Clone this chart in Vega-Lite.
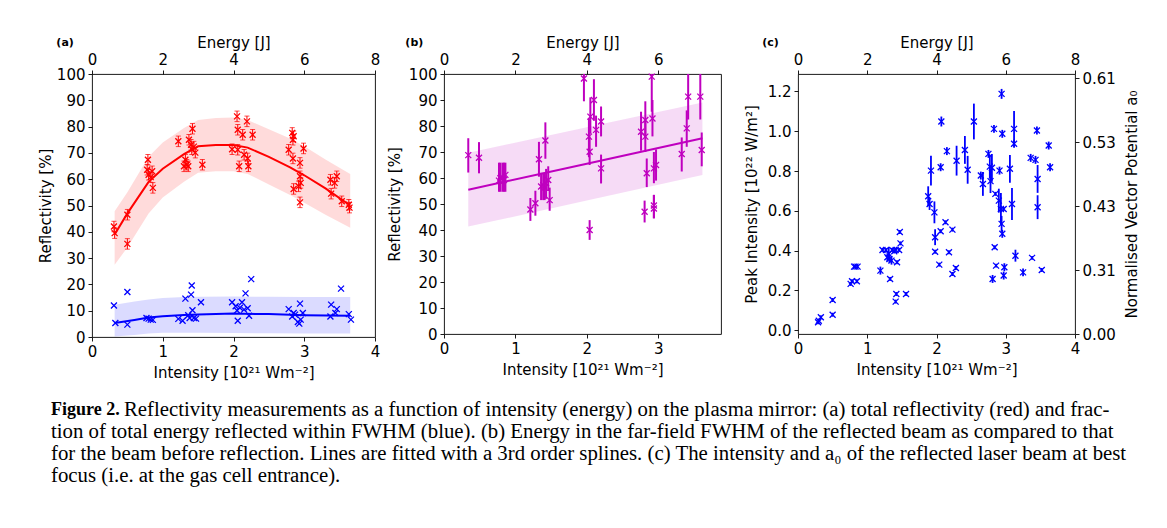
{
  "$schema": "https://vega.github.io/schema/vega-lite/v6.json",
  "background": "white",
  "padding": {"left": 37, "top": 34, "right": 5, "bottom": 5},
  "config": {
    "font": "DejaVu Sans",
    "view": {"stroke": "#000000", "strokeWidth": 0.9},
    "axis": {"grid": false, "domain": false, "tickColor": "#000000", "tickSize": 4, "tickWidth": 0.9, "labelFont": "DejaVu Sans", "labelFontSize": 15, "labelColor": "#000000", "titleFont": "DejaVu Sans", "titleFontSize": 15, "titleFontWeight": "normal", "titleColor": "#000000", "labelFlush": false, "labelOverlap": false, "labelPadding": 3, "titlePadding": 4},
    "axisTop": {"titlePadding": 2},
    "axisBottom": {"titlePadding": 6},
    "title": {"font": "DejaVu Sans", "fontSize": 11, "fontWeight": "bold", "color": "#000000", "anchor": "start", "frame": "bounds"}
  },
  "datasets": {
    "aFitR": [
      {"I": 0.32, "y": 39, "lo": 27.5, "hi": 47.8},
      {"I": 0.5, "y": 47, "lo": 34, "hi": 55},
      {"I": 0.8, "y": 59, "lo": 47, "hi": 68.5},
      {"I": 1.0, "y": 64, "lo": 53, "hi": 74},
      {"I": 1.3, "y": 69.5, "lo": 59, "hi": 79.5},
      {"I": 1.5, "y": 72.5, "lo": 62.5, "hi": 82.5},
      {"I": 1.75, "y": 73, "lo": 63, "hi": 83.3},
      {"I": 2.0, "y": 73, "lo": 63, "hi": 83.5},
      {"I": 2.2, "y": 72, "lo": 62, "hi": 82.5},
      {"I": 2.5, "y": 68.5, "lo": 58, "hi": 79},
      {"I": 2.8, "y": 64.5, "lo": 54, "hi": 75.5},
      {"I": 3.0, "y": 61.5, "lo": 51, "hi": 72.5},
      {"I": 3.3, "y": 56.5, "lo": 46.5, "hi": 67.5},
      {"I": 3.65, "y": 50, "lo": 41.5, "hi": 62}
    ],
    "aFitB": [
      {"I": 0.32, "y": 5.3, "lo": 0.2, "hi": 12.3},
      {"I": 0.6, "y": 6.5, "lo": 0.8, "hi": 13.5},
      {"I": 0.8, "y": 7.4, "lo": 1.3, "hi": 14.3},
      {"I": 1.0, "y": 7.9, "lo": 1.6, "hi": 14.8},
      {"I": 1.3, "y": 8.4, "lo": 1.6, "hi": 15.2},
      {"I": 1.5, "y": 8.6, "lo": 1.6, "hi": 15.3},
      {"I": 2.0, "y": 8.9, "lo": 1.5, "hi": 15.4},
      {"I": 2.5, "y": 8.7, "lo": 1.4, "hi": 15.3},
      {"I": 3.0, "y": 8.3, "lo": 1.3, "hi": 15.2},
      {"I": 3.65, "y": 8.1, "lo": 1.3, "hi": 15.2}
    ],
    "aRed": [
      {"I": 0.31, "R": 42, "lo": 40, "hi": 44},
      {"I": 0.32, "R": 39.5, "lo": 37.5, "hi": 41.5},
      {"I": 0.5, "R": 46.5, "lo": 44.5, "hi": 48.5},
      {"I": 0.5, "R": 35.4, "lo": 33.4, "hi": 37.4},
      {"I": 0.78, "R": 63.6, "lo": 61.6, "hi": 65.6},
      {"I": 0.79, "R": 67.4, "lo": 65.4, "hi": 69.4},
      {"I": 0.8, "R": 61.7, "lo": 59.7, "hi": 63.7},
      {"I": 0.83, "R": 60.8, "lo": 58.8, "hi": 62.8},
      {"I": 0.85, "R": 63, "lo": 61, "hi": 65},
      {"I": 0.86, "R": 56.7, "lo": 54.7, "hi": 58.7},
      {"I": 1.22, "R": 74.4, "lo": 72.4, "hi": 76.4},
      {"I": 1.3, "R": 64.9, "lo": 62.9, "hi": 66.9},
      {"I": 1.32, "R": 67.4, "lo": 65.4, "hi": 69.4},
      {"I": 1.34, "R": 65.5, "lo": 63.5, "hi": 67.5},
      {"I": 1.36, "R": 64.9, "lo": 62.9, "hi": 66.9},
      {"I": 1.37, "R": 75, "lo": 73, "hi": 77},
      {"I": 1.4, "R": 73.1, "lo": 71.1, "hi": 75.1},
      {"I": 1.42, "R": 79.2, "lo": 77.2, "hi": 81.2},
      {"I": 1.41, "R": 71.4, "lo": 69.4, "hi": 73.4},
      {"I": 1.44, "R": 72.4, "lo": 70.4, "hi": 74.4},
      {"I": 1.46, "R": 70.1, "lo": 68.1, "hi": 72.1},
      {"I": 1.56, "R": 65.5, "lo": 63.5, "hi": 67.5},
      {"I": 1.98, "R": 71.4, "lo": 69.4, "hi": 73.4},
      {"I": 2.05, "R": 83.9, "lo": 81.9, "hi": 85.9},
      {"I": 2.06, "R": 78.8, "lo": 76.8, "hi": 80.8},
      {"I": 2.13, "R": 76.9, "lo": 74.9, "hi": 78.9},
      {"I": 2.19, "R": 82, "lo": 80, "hi": 84},
      {"I": 2.27, "R": 76.9, "lo": 74.9, "hi": 78.9},
      {"I": 2.06, "R": 71.2, "lo": 69.2, "hi": 73.2},
      {"I": 2.08, "R": 64.9, "lo": 62.9, "hi": 66.9},
      {"I": 2.15, "R": 69.3, "lo": 67.3, "hi": 71.3},
      {"I": 2.2, "R": 67.9, "lo": 65.9, "hi": 69.9},
      {"I": 2.21, "R": 64.9, "lo": 62.9, "hi": 66.9},
      {"I": 2.83, "R": 77.6, "lo": 75.6, "hi": 79.6},
      {"I": 2.85, "R": 76.3, "lo": 74.3, "hi": 78.3},
      {"I": 2.84, "R": 75, "lo": 73, "hi": 77},
      {"I": 2.78, "R": 71.2, "lo": 69.2, "hi": 73.2},
      {"I": 2.84, "R": 67.9, "lo": 65.9, "hi": 69.9},
      {"I": 2.99, "R": 71.7, "lo": 69.7, "hi": 73.7},
      {"I": 2.94, "R": 66.2, "lo": 64.2, "hi": 68.2},
      {"I": 2.94, "R": 61.1, "lo": 59.1, "hi": 63.1},
      {"I": 2.85, "R": 56.3, "lo": 54.3, "hi": 58.3},
      {"I": 2.92, "R": 57.3, "lo": 55.3, "hi": 59.3},
      {"I": 2.95, "R": 58.6, "lo": 56.6, "hi": 60.6},
      {"I": 2.94, "R": 51.2, "lo": 49.2, "hi": 53.2},
      {"I": 3.37, "R": 59.8, "lo": 57.8, "hi": 61.8},
      {"I": 3.46, "R": 61.1, "lo": 59.1, "hi": 63.1},
      {"I": 3.43, "R": 58.6, "lo": 56.6, "hi": 60.6},
      {"I": 3.38, "R": 54.5, "lo": 52.5, "hi": 56.5},
      {"I": 3.53, "R": 51.6, "lo": 49.6, "hi": 53.6},
      {"I": 3.63, "R": 50.3, "lo": 48.3, "hi": 52.3},
      {"I": 3.64, "R": 49.2, "lo": 47.2, "hi": 51.2}
    ],
    "aBlue": [
      {"I": 0.31, "R": 12}, {"I": 0.33, "R": 5.3}, {"I": 0.5, "R": 17.1}, {"I": 0.5, "R": 4.7},
      {"I": 0.77, "R": 7.2}, {"I": 0.8, "R": 7}, {"I": 0.83, "R": 6.6}, {"I": 0.86, "R": 6.5},
      {"I": 1.22, "R": 6.9}, {"I": 1.28, "R": 6.2}, {"I": 1.32, "R": 14.6}, {"I": 1.36, "R": 8.3},
      {"I": 1.4, "R": 16.1}, {"I": 1.41, "R": 19.6}, {"I": 1.42, "R": 10.2}, {"I": 1.38, "R": 7.2},
      {"I": 1.44, "R": 7.2}, {"I": 1.47, "R": 7}, {"I": 1.54, "R": 13.2}, {"I": 1.98, "R": 13.2},
      {"I": 2.03, "R": 11.7}, {"I": 2.05, "R": 10.1}, {"I": 2.06, "R": 6.2}, {"I": 2.09, "R": 11.1},
      {"I": 2.12, "R": 13.2}, {"I": 2.15, "R": 10.4}, {"I": 2.17, "R": 16.6}, {"I": 2.2, "R": 10.9},
      {"I": 2.22, "R": 8.1}, {"I": 2.25, "R": 22}, {"I": 2.78, "R": 10.6}, {"I": 2.83, "R": 7.8},
      {"I": 2.85, "R": 9.1}, {"I": 2.87, "R": 8.5}, {"I": 2.94, "R": 12.7}, {"I": 2.91, "R": 5.7},
      {"I": 2.93, "R": 5.1}, {"I": 2.95, "R": 6.6}, {"I": 2.98, "R": 9.1}, {"I": 3.38, "R": 12.3},
      {"I": 3.37, "R": 7.8}, {"I": 3.44, "R": 9.1}, {"I": 3.46, "R": 10.6}, {"I": 3.52, "R": 18.4},
      {"I": 3.63, "R": 8.7}, {"I": 3.66, "R": 6.6}
    ],
    "bFit": [
      {"I": 0.34, "y": 55.5, "lo": 41.3, "hi": 69.7},
      {"I": 2.0, "y": 65.5, "lo": 51.3, "hi": 79.5},
      {"I": 3.62, "y": 75.3, "lo": 61.2, "hi": 89}
    ],
    "bPts": [
      {"I": 0.34, "R": 68.8, "lo": 62.1, "hi": 75.3},
      {"I": 0.49, "R": 67.8, "lo": 61.8, "hi": 73.8},
      {"I": 0.77, "R": 59.0, "lo": 54.7, "hi": 65.9},
      {"I": 0.79, "R": 59.9, "lo": 54.7, "hi": 65.9},
      {"I": 0.82, "R": 60.3, "lo": 54.7, "hi": 65.9},
      {"I": 0.84, "R": 59.2, "lo": 54.7, "hi": 65.9},
      {"I": 0.86, "R": 61.2, "lo": 54.7, "hi": 65.9},
      {"I": 1.21, "R": 47.9, "lo": 43.5, "hi": 52.3},
      {"I": 1.28, "R": 50.3, "lo": 45.5, "hi": 55.1},
      {"I": 1.33, "R": 67.2, "lo": 60.5, "hi": 73.9},
      {"I": 1.36, "R": 56.7, "lo": 51.5, "hi": 62},
      {"I": 1.39, "R": 57.3, "lo": 51.5, "hi": 62},
      {"I": 1.41, "R": 56.3, "lo": 51.5, "hi": 62},
      {"I": 1.43, "R": 58.0, "lo": 52, "hi": 63.5},
      {"I": 1.42, "R": 74.4, "lo": 67.4, "hi": 81.4},
      {"I": 1.46, "R": 59.2, "lo": 55, "hi": 64.5},
      {"I": 1.48, "R": 51.5, "lo": 47.4, "hi": 56.3},
      {"I": 1.96, "R": 98.3, "lo": 89.5, "hi": 100},
      {"I": 2.04, "R": 40.0, "lo": 36.2, "hi": 43.8},
      {"I": 2.03, "R": 75.9, "lo": 68, "hi": 83},
      {"I": 2.04, "R": 70.1, "lo": 65, "hi": 76},
      {"I": 2.05, "R": 83.6, "lo": 77, "hi": 91},
      {"I": 2.1, "R": 90.0, "lo": 82, "hi": 98},
      {"I": 2.13, "R": 78.5, "lo": 72, "hi": 84},
      {"I": 2.2, "R": 81.7, "lo": 76, "hi": 87.5},
      {"I": 2.2, "R": 63.7, "lo": 57.9, "hi": 69},
      {"I": 2.76, "R": 77.8, "lo": 70.5, "hi": 85.5},
      {"I": 2.82, "R": 82.3, "lo": 75.5, "hi": 89.5},
      {"I": 2.82, "R": 75.9, "lo": 70, "hi": 82},
      {"I": 2.84, "R": 61.8, "lo": 56.5, "hi": 67.5},
      {"I": 2.81, "R": 47.0, "lo": 42.9, "hi": 51.3},
      {"I": 2.91, "R": 99.0, "lo": 85.5, "hi": 100},
      {"I": 2.92, "R": 82.9, "lo": 76, "hi": 90},
      {"I": 2.94, "R": 49.4, "lo": 44.5, "hi": 53.5},
      {"I": 2.94, "R": 48.3, "lo": 44.5, "hi": 53.5},
      {"I": 2.94, "R": 63.7, "lo": 58, "hi": 70},
      {"I": 2.97, "R": 65.0, "lo": 59, "hi": 71},
      {"I": 3.33, "R": 69.2, "lo": 62.5, "hi": 75.6},
      {"I": 3.4, "R": 79.1, "lo": 72, "hi": 86},
      {"I": 3.42, "R": 91.3, "lo": 82.5, "hi": 100},
      {"I": 3.59, "R": 91.3, "lo": 82.5, "hi": 100},
      {"I": 3.61, "R": 70.8, "lo": 64.5, "hi": 77.5}
    ],
    "cPts": [
      {"I": 0.29, "P": 0.039, "lo": 0.029, "hi": 0.049},
      {"I": 0.30, "P": 0.047, "lo": 0.037, "hi": 0.057},
      {"I": 0.33, "P": 0.064, "lo": 0.054, "hi": 0.074},
      {"I": 0.50, "P": 0.077, "lo": 0.067, "hi": 0.087},
      {"I": 0.50, "P": 0.151, "lo": 0.141, "hi": 0.161},
      {"I": 0.76, "P": 0.232, "lo": 0.222, "hi": 0.242},
      {"I": 0.78, "P": 0.245, "lo": 0.235, "hi": 0.255},
      {"I": 0.81, "P": 0.319, "lo": 0.309, "hi": 0.329},
      {"I": 0.83, "P": 0.319, "lo": 0.309, "hi": 0.329},
      {"I": 0.86, "P": 0.319, "lo": 0.309, "hi": 0.329},
      {"I": 0.85, "P": 0.245, "lo": 0.235, "hi": 0.255},
      {"I": 1.19, "P": 0.299, "lo": 0.279, "hi": 0.319},
      {"I": 1.22, "P": 0.403, "lo": 0.393, "hi": 0.413},
      {"I": 1.27, "P": 0.403, "lo": 0.393, "hi": 0.413},
      {"I": 1.29, "P": 0.366, "lo": 0.346, "hi": 0.386},
      {"I": 1.31, "P": 0.383, "lo": 0.353, "hi": 0.413},
      {"I": 1.32, "P": 0.357, "lo": 0.337, "hi": 0.377},
      {"I": 1.33, "P": 0.257, "lo": 0.247, "hi": 0.267},
      {"I": 1.35, "P": 0.349, "lo": 0.329, "hi": 0.369},
      {"I": 1.36, "P": 0.403, "lo": 0.393, "hi": 0.413},
      {"I": 1.39, "P": 0.396, "lo": 0.386, "hi": 0.406},
      {"I": 1.41, "P": 0.403, "lo": 0.393, "hi": 0.413},
      {"I": 1.43, "P": 0.341, "lo": 0.331, "hi": 0.351},
      {"I": 1.46, "P": 0.403, "lo": 0.393, "hi": 0.413},
      {"I": 1.47, "P": 0.493, "lo": 0.483, "hi": 0.503},
      {"I": 1.48, "P": 0.436, "lo": 0.426, "hi": 0.446},
      {"I": 1.42, "P": 0.181, "lo": 0.171, "hi": 0.191},
      {"I": 1.41, "P": 0.143, "lo": 0.133, "hi": 0.153},
      {"I": 1.56, "P": 0.181, "lo": 0.171, "hi": 0.191},
      {"I": 1.88, "P": 0.673, "lo": 0.623, "hi": 0.723},
      {"I": 1.90, "P": 0.634, "lo": 0.604, "hi": 0.664},
      {"I": 1.92, "P": 0.802, "lo": 0.727, "hi": 0.877},
      {"I": 1.97, "P": 0.592, "lo": 0.537, "hi": 0.647},
      {"I": 1.98, "P": 0.467, "lo": 0.427, "hi": 0.507},
      {"I": 1.98, "P": 0.394, "lo": 0.384, "hi": 0.404},
      {"I": 2.04, "P": 0.329, "lo": 0.319, "hi": 0.339},
      {"I": 2.06, "P": 0.497, "lo": 0.487, "hi": 0.507},
      {"I": 2.06, "P": 0.819, "lo": 0.799, "hi": 0.839},
      {"I": 2.07, "P": 1.049, "lo": 1.024, "hi": 1.074},
      {"I": 2.13, "P": 0.542, "lo": 0.532, "hi": 0.552},
      {"I": 2.15, "P": 0.900, "lo": 0.880, "hi": 0.920},
      {"I": 2.18, "P": 0.391, "lo": 0.381, "hi": 0.401},
      {"I": 2.23, "P": 0.505, "lo": 0.495, "hi": 0.515},
      {"I": 2.23, "P": 0.282, "lo": 0.272, "hi": 0.292},
      {"I": 2.28, "P": 0.312, "lo": 0.302, "hi": 0.322},
      {"I": 2.29, "P": 0.852, "lo": 0.777, "hi": 0.927},
      {"I": 2.41, "P": 0.906, "lo": 0.836, "hi": 0.976},
      {"I": 2.45, "P": 0.806, "lo": 0.736, "hi": 0.876},
      {"I": 2.54, "P": 1.049, "lo": 0.959, "hi": 1.139},
      {"I": 2.64, "P": 0.777, "lo": 0.757, "hi": 0.797},
      {"I": 2.67, "P": 0.735, "lo": 0.675, "hi": 0.795},
      {"I": 2.75, "P": 0.886, "lo": 0.866, "hi": 0.906},
      {"I": 2.77, "P": 0.822, "lo": 0.762, "hi": 0.882},
      {"I": 2.78, "P": 0.749, "lo": 0.689, "hi": 0.809},
      {"I": 2.80, "P": 0.816, "lo": 0.746, "hi": 0.886},
      {"I": 2.81, "P": 0.257, "lo": 0.237, "hi": 0.277},
      {"I": 2.83, "P": 1.012, "lo": 0.992, "hi": 1.032},
      {"I": 2.84, "P": 0.416, "lo": 0.406, "hi": 0.426},
      {"I": 2.85, "P": 0.685, "lo": 0.675, "hi": 0.695},
      {"I": 2.86, "P": 0.324, "lo": 0.314, "hi": 0.334},
      {"I": 2.90, "P": 0.651, "lo": 0.591, "hi": 0.711},
      {"I": 2.91, "P": 0.802, "lo": 0.782, "hi": 0.822},
      {"I": 2.93, "P": 0.609, "lo": 0.529, "hi": 0.689},
      {"I": 2.94, "P": 0.534, "lo": 0.494, "hi": 0.574},
      {"I": 2.94, "P": 1.188, "lo": 1.163, "hi": 1.213},
      {"I": 2.95, "P": 0.484, "lo": 0.464, "hi": 0.504},
      {"I": 2.95, "P": 0.987, "lo": 0.967, "hi": 1.007},
      {"I": 2.97, "P": 0.609, "lo": 0.599, "hi": 0.619},
      {"I": 2.97, "P": 0.274, "lo": 0.254, "hi": 0.294},
      {"I": 2.98, "P": 0.316, "lo": 0.296, "hi": 0.336},
      {"I": 3.06, "P": 0.811, "lo": 0.741, "hi": 0.881},
      {"I": 3.09, "P": 0.634, "lo": 0.554, "hi": 0.714},
      {"I": 3.12, "P": 1.012, "lo": 0.922, "hi": 1.102},
      {"I": 3.12, "P": 0.937, "lo": 0.917, "hi": 0.957},
      {"I": 3.14, "P": 0.374, "lo": 0.344, "hi": 0.404},
      {"I": 3.25, "P": 0.290, "lo": 0.270, "hi": 0.310},
      {"I": 3.36, "P": 0.866, "lo": 0.846, "hi": 0.886},
      {"I": 3.38, "P": 0.363, "lo": 0.353, "hi": 0.373},
      {"I": 3.43, "P": 0.856, "lo": 0.836, "hi": 0.876},
      {"I": 3.45, "P": 1.004, "lo": 0.984, "hi": 1.024},
      {"I": 3.46, "P": 0.760, "lo": 0.690, "hi": 0.830},
      {"I": 3.46, "P": 0.618, "lo": 0.558, "hi": 0.678},
      {"I": 3.52, "P": 0.302, "lo": 0.292, "hi": 0.312},
      {"I": 3.62, "P": 0.928, "lo": 0.908, "hi": 0.948},
      {"I": 3.64, "P": 0.819, "lo": 0.799, "hi": 0.839}
    ],
    "caption": [
      {"line": 1, "part": "head", "text": "Figure 2."},
      {"line": 1, "part": "rest", "text": "Reflectivity measurements as a function of intensity (energy) on the plasma mirror: (a) total reflectivity (red) and frac-"},
      {"line": 2, "part": "body", "text": "tion of total energy reflected within FWHM (blue). (b) Energy in the far-field FWHM of the reflected beam as compared to that"},
      {"line": 3, "part": "body", "text": "for the beam before reflection. Lines are fitted with a 3rd order splines. (c) The intensity and a₀ of the reflected laser beam at best"},
      {"line": 4, "part": "body", "text": "focus (i.e. at the gas cell entrance)."}
    ]
  },
  "vconcat": [
    {
      "hconcat": [
        {
          "hconcat": [
            {
              "width": 283, "height": 263,
              "title": {"text": "(a)", "dx": 18, "dy": 17},
              "layer": [
                {"layer": [
                  {"data": {"name": "aFitR"}, "mark": {"type": "area", "color": "#ff0000", "opacity": 0.14},
                   "encoding": {
                     "x": {"field": "I", "type": "quantitative", "scale": {"domain": [0, 4], "nice": false}, "axis": {"values": [0, 1, 2, 3, 4], "format": "d", "title": "Intensity [10²¹ Wm⁻²]"}},
                     "y": {"field": "lo", "type": "quantitative", "scale": {"domain": [0, 100], "nice": false}, "axis": {"values": [0, 10, 20, 30, 40, 50, 60, 70, 80, 90, 100], "tickCount": 11, "labelOverlap": false, "format": "d", "title": "Reflectivity [%]", "titlePadding": 3}},
                     "y2": {"field": "hi"}}},
                  {"data": {"name": "aFitB"}, "mark": {"type": "area", "color": "#0000ff", "opacity": 0.14},
                   "encoding": {"x": {"field": "I", "type": "quantitative"}, "y": {"field": "lo", "type": "quantitative", "axis": {"values": [0, 10, 20, 30, 40, 50, 60, 70, 80, 90, 100], "tickCount": 11, "labelOverlap": false, "format": "d", "title": "Reflectivity [%]", "titlePadding": 3}}, "y2": {"field": "hi"}}},
                  {"data": {"name": "aRed"}, "mark": {"type": "rule", "color": "#ff0000", "strokeWidth": 1},
                   "encoding": {"x": {"field": "I", "type": "quantitative"}, "y": {"field": "lo", "type": "quantitative", "axis": {"values": [0, 10, 20, 30, 40, 50, 60, 70, 80, 90, 100], "tickCount": 11, "labelOverlap": false, "format": "d", "title": "Reflectivity [%]", "titlePadding": 3}}, "y2": {"field": "hi"}}},
                  {"data": {"name": "aRed"}, "mark": {"type": "tick", "color": "#ff0000", "orient": "horizontal", "size": 5, "thickness": 1},
                   "encoding": {"x": {"field": "I", "type": "quantitative"}, "y": {"field": "lo", "type": "quantitative", "axis": {"values": [0, 10, 20, 30, 40, 50, 60, 70, 80, 90, 100], "tickCount": 11, "labelOverlap": false, "format": "d", "title": "Reflectivity [%]", "titlePadding": 3}}}},
                  {"data": {"name": "aRed"}, "mark": {"type": "tick", "color": "#ff0000", "orient": "horizontal", "size": 5, "thickness": 1},
                   "encoding": {"x": {"field": "I", "type": "quantitative"}, "y": {"field": "hi", "type": "quantitative", "axis": {"values": [0, 10, 20, 30, 40, 50, 60, 70, 80, 90, 100], "tickCount": 11, "labelOverlap": false, "format": "d", "title": "Reflectivity [%]", "titlePadding": 3}}}},
                  {"data": {"name": "aFitR"}, "mark": {"type": "line", "color": "#ff0000", "strokeWidth": 2},
                   "encoding": {"x": {"field": "I", "type": "quantitative"}, "y": {"field": "y", "type": "quantitative", "axis": {"values": [0, 10, 20, 30, 40, 50, 60, 70, 80, 90, 100], "tickCount": 11, "labelOverlap": false, "format": "d", "title": "Reflectivity [%]", "titlePadding": 3}}}},
                  {"data": {"name": "aFitB"}, "mark": {"type": "line", "color": "#0000ff", "strokeWidth": 2},
                   "encoding": {"x": {"field": "I", "type": "quantitative"}, "y": {"field": "y", "type": "quantitative", "axis": {"values": [0, 10, 20, 30, 40, 50, 60, 70, 80, 90, 100], "tickCount": 11, "labelOverlap": false, "format": "d", "title": "Reflectivity [%]", "titlePadding": 3}}}},
                  {"data": {"name": "aRed"}, "mark": {"type": "point", "shape": "M-1,-1L1,1M-1,1L1,-1", "filled": false, "color": "#ff0000", "size": 36, "strokeWidth": 1.3, "opacity": 1},
                   "encoding": {"x": {"field": "I", "type": "quantitative"}, "y": {"field": "R", "type": "quantitative", "axis": {"values": [0, 10, 20, 30, 40, 50, 60, 70, 80, 90, 100], "tickCount": 11, "labelOverlap": false, "format": "d", "title": "Reflectivity [%]", "titlePadding": 3}}}},
                  {"data": {"name": "aBlue"}, "mark": {"type": "point", "shape": "M-1,-1L1,1M-1,1L1,-1", "filled": false, "color": "#0000ff", "size": 36, "strokeWidth": 1.3, "opacity": 1},
                   "encoding": {"x": {"field": "I", "type": "quantitative"}, "y": {"field": "R", "type": "quantitative", "axis": {"values": [0, 10, 20, 30, 40, 50, 60, 70, 80, 90, 100], "tickCount": 11, "labelOverlap": false, "format": "d", "title": "Reflectivity [%]", "titlePadding": 3}}}}
                ]},
                {"data": {"values": [{}]}, "mark": {"type": "point", "opacity": 0},
                 "encoding": {"x": {"datum": 0, "type": "quantitative", "scale": {"domain": [0, 8], "nice": false}, "axis": {"orient": "top", "values": [0, 2, 4, 6, 8], "format": "d", "title": "Energy [J]"}}}}
              ],
              "resolve": {"scale": {"x": "independent"}}
            },
            {
              "width": 277, "height": 260,
              "title": {"text": "(b)", "dx": 18, "dy": 17},
              "layer": [
                {"layer": [
                  {"data": {"name": "bFit"}, "mark": {"type": "area", "color": "#bf00bf", "opacity": 0.14},
                   "encoding": {
                     "x": {"field": "I", "type": "quantitative", "scale": {"domain": [0, 3.88], "nice": false}, "axis": {"values": [0, 1, 2, 3], "format": "d", "title": "Intensity [10²¹ Wm⁻²]"}},
                     "y": {"field": "lo", "type": "quantitative", "scale": {"domain": [0, 100], "nice": false}, "axis": {"values": [0, 10, 20, 30, 40, 50, 60, 70, 80, 90, 100], "tickCount": 11, "labelOverlap": false, "format": "d", "title": "Reflectivity [%]", "titlePadding": 6}},
                     "y2": {"field": "hi"}}},
                  {"data": {"name": "bPts"}, "mark": {"type": "rule", "color": "#bf00bf", "strokeWidth": 2},
                   "encoding": {"x": {"field": "I", "type": "quantitative"}, "y": {"field": "lo", "type": "quantitative"}, "y2": {"field": "hi"}}},
                  {"data": {"name": "bFit"}, "mark": {"type": "line", "color": "#bf00bf", "strokeWidth": 2},
                   "encoding": {"x": {"field": "I", "type": "quantitative"}, "y": {"field": "y", "type": "quantitative"}}},
                  {"data": {"name": "bPts"}, "mark": {"type": "point", "shape": "M-1,-1L1,1M-1,1L1,-1", "filled": false, "color": "#bf00bf", "size": 36, "strokeWidth": 1.3, "opacity": 1},
                   "encoding": {"x": {"field": "I", "type": "quantitative"}, "y": {"field": "R", "type": "quantitative"}}}
                ]},
                {"data": {"values": [{}]}, "mark": {"type": "point", "opacity": 0},
                 "encoding": {"x": {"datum": 0, "type": "quantitative", "scale": {"domain": [0, 7.76], "nice": false}, "axis": {"orient": "top", "values": [0, 2, 4, 6], "format": "d", "title": "Energy [J]"}}}}
              ],
              "resolve": {"scale": {"x": "independent"}}
            }
          ],
          "spacing": 5
        },
        {
          "width": 277, "height": 260,
          "title": {"text": "(c)", "dx": 18, "dy": 17},
          "layer": [
            {"layer": [
              {"data": {"name": "cPts"}, "mark": {"type": "rule", "color": "#0000ff", "strokeWidth": 1.8},
               "encoding": {
                 "x": {"field": "I", "type": "quantitative", "scale": {"domain": [0, 4], "nice": false}, "axis": {"values": [0, 1, 2, 3, 4], "format": "d", "title": "Intensity [10²¹ Wm⁻²]"}},
                 "y": {"field": "lo", "type": "quantitative", "scale": {"domain": [-0.02, 1.288], "nice": false, "zero": false}, "axis": {"values": [0, 0.2, 0.4, 0.6, 0.8, 1.0, 1.2], "format": ".1f", "title": "Peak Intensity [10²² W/m²]", "titlePadding": 8}},
                 "y2": {"field": "hi"}}},
              {"data": {"name": "cPts"}, "mark": {"type": "point", "shape": "M-1,-1L1,1M-1,1L1,-1", "filled": false, "color": "#0000ff", "size": 36, "strokeWidth": 1.3, "opacity": 1},
               "encoding": {"x": {"field": "I", "type": "quantitative"}, "y": {"field": "P", "type": "quantitative"}}}
            ]},
            {"data": {"values": [{}]}, "mark": {"type": "point", "opacity": 0},
             "encoding": {
               "x": {"datum": 0, "type": "quantitative", "scale": {"domain": [0, 8], "nice": false}, "axis": {"orient": "top", "values": [0, 2, 4, 6, 8], "format": "d", "title": "Energy [J]"}},
               "y": {"datum": 0, "type": "quantitative", "scale": {"domain": [0, 4.0625], "nice": false}, "axis": {"orient": "right", "values": [0, 1, 2, 3, 4], "labelExpr": "['0.00','0.31','0.43','0.53','0.61'][datum.value]", "title": "Normalised Vector Potential a₀", "titleAngle": 270, "titlePadding": 24}}}}
          ],
          "resolve": {"scale": {"x": "independent", "y": "independent"}}
        }
      ],
      "spacing": 21
    },
    {
      "width": 1090, "height": 88,
      "view": {"stroke": null},
      "data": {"name": "caption"},
      "layer": [
        {"transform": [{"filter": "datum.part === 'head'"}],
         "mark": {"type": "text", "align": "left", "baseline": "middle", "font": "Liberation Serif", "fontSize": 18, "fontWeight": "bold", "dx": -41, "color": "#000000"},
         "encoding": {"y": {"field": "line", "type": "ordinal", "axis": null, "scale": {"paddingInner": 0, "paddingOuter": 0}}, "x": {"value": 0}, "text": {"field": "text"}}},
        {"transform": [{"filter": "datum.part === 'rest'"}],
         "mark": {"type": "text", "align": "left", "baseline": "middle", "font": "Liberation Serif", "fontSize": 20.8, "dx": 32, "color": "#000000"},
         "encoding": {"y": {"field": "line", "type": "ordinal", "axis": null}, "x": {"value": 0}, "text": {"field": "text"}}},
        {"transform": [{"filter": "datum.part === 'body'"}],
         "mark": {"type": "text", "align": "left", "baseline": "middle", "font": "Liberation Serif", "fontSize": 20.8, "dx": -41, "color": "#000000"},
         "encoding": {"y": {"field": "line", "type": "ordinal", "axis": null}, "x": {"value": 0}, "text": {"field": "text"}}}
      ]
    }
  ],
  "spacing": 18
}
